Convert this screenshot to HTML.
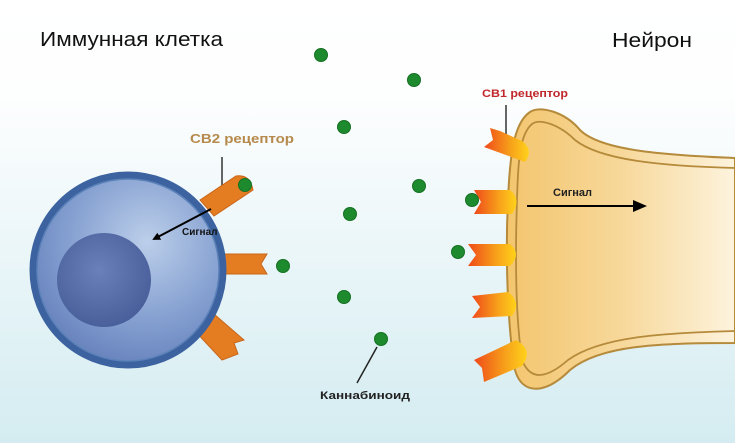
<!DOCTYPE html>
<html><head><meta charset="utf-8"><style>
html,body{margin:0;padding:0;width:735px;height:443px;overflow:hidden}
svg{display:block}
text{font-family:"Liberation Sans",sans-serif}
</style></head><body>
<svg width="735" height="443" viewBox="0 0 735 443" xmlns="http://www.w3.org/2000/svg">
<defs>
<linearGradient id="bg" x1="0" y1="0" x2="0" y2="1">
<stop offset="0" stop-color="#ffffff"/><stop offset="0.22" stop-color="#fdfefe"/><stop offset="1" stop-color="#d4ecf1"/>
</linearGradient>
<radialGradient id="cell" cx="0.6" cy="0.35" r="0.7">
<stop offset="0" stop-color="#bccfea"/><stop offset="0.6" stop-color="#849fd0"/><stop offset="1" stop-color="#6580bb"/>
</radialGradient>
<radialGradient id="nuc" cx="0.45" cy="0.4" r="0.65">
<stop offset="0" stop-color="#6a80b9"/><stop offset="1" stop-color="#475d99"/>
</radialGradient>
<linearGradient id="neu" x1="0" y1="0" x2="1" y2="0">
<stop offset="0" stop-color="#f3c56e"/><stop offset="0.5" stop-color="#f7d89a"/><stop offset="1" stop-color="#fdf3dd"/>
</linearGradient>
<linearGradient id="rec" x1="0" y1="0" x2="1" y2="0">
<stop offset="0" stop-color="#ef4a1a"/><stop offset="0.6" stop-color="#f7a21a"/><stop offset="1" stop-color="#ffd21a"/>
</linearGradient>
<marker id="ah" markerWidth="8" markerHeight="8" refX="6" refY="4" orient="auto" markerUnits="userSpaceOnUse"><path d="M0,0 L8,4 L0,8 Z" fill="#000"/></marker>
<marker id="ah2" markerWidth="14" markerHeight="12" refX="12" refY="6" orient="auto" markerUnits="userSpaceOnUse"><path d="M0,0 L14,6 L0,12 Z" fill="#000"/></marker>
</defs>
<rect width="735" height="443" fill="url(#bg)"/>

<text x="40" y="46" font-size="20" fill="#111" textLength="183" lengthAdjust="spacingAndGlyphs">Иммунная клетка</text>
<text x="612" y="47" font-size="20" fill="#111" textLength="80" lengthAdjust="spacingAndGlyphs">Нейрон</text>

<!-- cell receptors -->
<line x1="222" y1="157" x2="222" y2="190" stroke="#333" stroke-width="1.5"/>
<g fill="#e47c22" stroke="#c8661a" stroke-width="1">
<path d="M200,200 L236,176 Q250,174 253,190 L214,216 Z"/>
<path d="M222,254 L267,254 L261,264 L267,274 L222,274 Z"/>
<path d="M194,330 L214,314 L244,340 L234,343 L238,354 L222,360 Z"/>
</g>

<!-- cell -->
<circle cx="128" cy="270" r="95" fill="url(#cell)" stroke="#3c63a0" stroke-width="7"/>
<circle cx="128" cy="270" r="91" fill="none" stroke="#5b82b8" stroke-width="1.5"/>
<circle cx="104" cy="280" r="47" fill="url(#nuc)"/>
<line x1="211" y1="209" x2="154" y2="239" stroke="#000" stroke-width="2" marker-end="url(#ah)"/>
<text x="182" y="235" font-size="10" font-weight="bold" fill="#111">Сигнал</text>
<text x="190" y="143" font-size="13" font-weight="bold" fill="#b58a4c" textLength="104" lengthAdjust="spacingAndGlyphs">CB2 рецептор</text>

<!-- neuron -->
<path d="M735,158 C660,155 600,150 580,130 C565,112 540,105 530,112 C515,122 510,150 508,200 C505,260 508,330 515,370 C522,395 545,395 570,370 C600,345 660,343 735,343 Z" fill="url(#neu)" stroke="#b58a3a" stroke-width="2"/>
<path d="M735,168 C660,166 600,160 575,140 C560,125 540,118 532,124 C520,134 518,160 517,200 C515,260 516,320 522,360 C530,380 545,380 568,360 C600,337 660,333 735,331" fill="none" stroke="#b58a3a" stroke-width="1.8"/>

<!-- neuron receptors -->
<line x1="506" y1="105" x2="506" y2="134" stroke="#333" stroke-width="1.5"/>
<g fill="url(#rec)">
<path d="M490,128 L500,131 L522,141 Q534,150 525,162 L484,147 L493,140 Z"/>
<path d="M474,190 L510,190 Q522,200 512,214 L474,214 L481,202 Z"/>
<path d="M468,244 L510,244 Q522,254 510,266 L468,266 L476,255 Z"/>
<path d="M472,296 L508,292 Q522,302 512,316 L472,318 L480,307 Z"/>
<path d="M474,360 L516,340 Q534,350 522,366 L484,382 L482,368 Z"/>
</g>
<line x1="527" y1="206" x2="645" y2="206" stroke="#000" stroke-width="2" marker-end="url(#ah2)"/>
<text x="553" y="196" font-size="11" font-weight="bold" fill="#222">Сигнал</text>
<text x="482" y="97" font-size="11" font-weight="bold" fill="#c0282c" textLength="86" lengthAdjust="spacingAndGlyphs">CB1 рецептор</text>

<!-- cannabinoids -->
<g fill="#1e8a2e" stroke="#157023" stroke-width="1">
<circle cx="321" cy="55" r="6.5"/><circle cx="414" cy="80" r="6.5"/>
<circle cx="344" cy="127" r="6.5"/><circle cx="419" cy="186" r="6.5"/>
<circle cx="350" cy="214" r="6.5"/><circle cx="472" cy="200" r="6.5"/>
<circle cx="245" cy="185" r="6.5"/><circle cx="283" cy="266" r="6.5"/>
<circle cx="458" cy="252" r="6.5"/><circle cx="344" cy="297" r="6.5"/>
<circle cx="381" cy="339" r="6.5"/>
</g>
<line x1="377" y1="347" x2="357" y2="383" stroke="#222" stroke-width="1.5"/>
<text x="320" y="399" font-size="11" font-weight="bold" fill="#222" textLength="90" lengthAdjust="spacingAndGlyphs">Каннабиноид</text>
</svg>
</body></html>
